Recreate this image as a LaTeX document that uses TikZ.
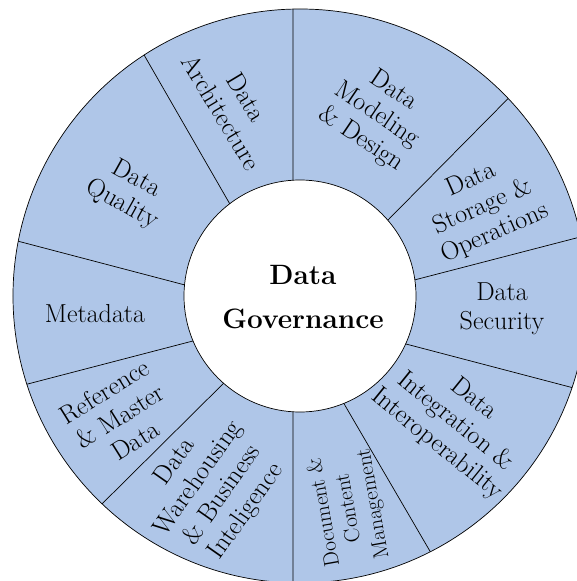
\documentclass[tikz,border=0pt]{standalone}
\usepackage{fontspec}
\usepackage{tikz}
\usepackage{xcolor}

\definecolor{wheelblue}{RGB}{175,198,232}

\tikzset{
  area/.style={align=center, inner sep=0pt, font=\fontsize{26}{29}\selectfont},
  smallarea/.style={align=center, inner sep=0pt, font=\fontsize{21.5}{25}\selectfont},
  hub/.style={align=center, inner sep=0pt, font=\fontsize{28}{44}\selectfont\bfseries}
}

\begin{document}
\begin{tikzpicture}[x=1pt,y=1pt]
        \useasboundingbox (-300,-285) rectangle (276,296);

        % the ring
        \filldraw[fill=wheelblue, draw=black, line width=0.7pt] (0,0) circle (287);
        \filldraw[fill=white, draw=black, line width=0.7pt] (0,0) circle (116);

        % dividers between the areas
        \draw[line width=0.7pt] (93.5:116) -- (91.4:287);
        \draw[line width=0.7pt] (127.3:116) -- (122.9:287);
        \draw[line width=0.7pt] (174.5:116) -- (169:287);
        \draw[line width=0.7pt] (202.8:116) -- (197.9:287);
        \draw[line width=0.7pt] (228.8:116) -- (226.4:287);
        \draw[line width=0.7pt] (266.5:116) -- (268.6:287);
        \draw[line width=0.7pt] (292.2:116) -- (297:287);
        \draw[line width=0.7pt] (335.6:116) -- (341.4:287);
        \draw[line width=0.7pt] (8:116) -- (11.9:287);
        \draw[line width=0.7pt] (40.8:116) -- (43.5:287);

        \node[hub] (gov) at (3,-1) {Data\\Governance};

        \node[area, rotate=-59] (arch) at (-66,191) {Data\\Architecture};
        \node[area, rotate=-34] (model) at (77,181) {Data\\Modeling\\\& Design};
        \node[area, rotate=24] (store) at (183,89) {Data\\Storage \&\\Operations};
        \node[area] (secur) at (202,-13) {Data\\Security};
        \node[area, rotate=-39] (integ) at (155,-126) {Data\\Integration \&\\Interoperability};
        \node[smallarea, rotate=100] (docs) at (49,-212) {Document \&\\Content\\Management};
        \node[area, rotate=55] (dwbi) at (-89,-191) {Data\\Warehousing\\\& Business\\Inteligence};
        \node[area, rotate=32] (refmd) at (-180,-120) {Reference\\\& Master\\Data};
        \node[area] (meta) at (-205,-18) {Metadata};
        \node[area, rotate=-29] (qual) at (-171,104) {Data\\Quality};
    \end{tikzpicture}
\end{document}
